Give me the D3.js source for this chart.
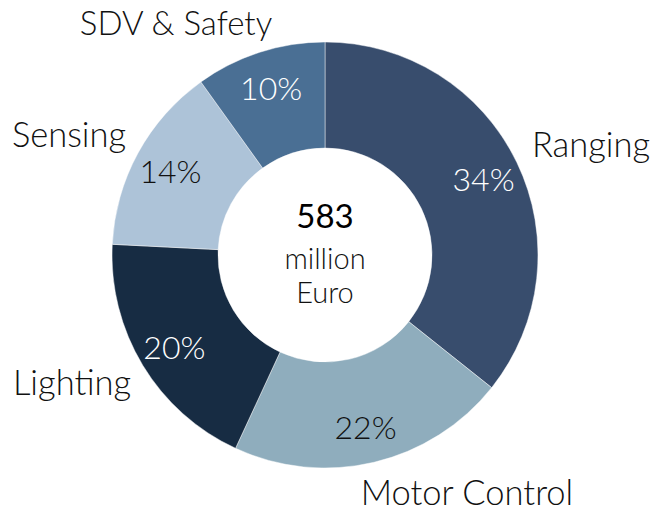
<!DOCTYPE html>
<html>
<head>
<meta charset="utf-8">
<script src="https://cdn.jsdelivr.net/npm/d3@7"></script>
<style>
  body { margin: 0; background: #fff; }
  svg { display: block; font-family: Lato, "Open Sans", sans-serif; }
</style>
</head>
<body>
<svg width="656" height="511"></svg>
<script>
// segments, clockwise from 12 o'clock
const categories = ["Ranging", "Motor Control", "Lighting", "Sensing", "SDV & Safety"];
const shares = [35.7, 21.2, 18.9, 14.3, 9.9];   // angular share
const pctLabels = ["34%", "22%", "20%", "14%", "10%"];
const totalValue = "583";
const totalUnit = ["million", "Euro"];

const colors = ["#384d6d", "#8fadbd", "#172c43", "#adc3d8", "#4a6f94"];
const pctColors = ["#fff", "#111", "#fff", "#111", "#fff"];

// where the category names sit, offset from the centre (baseline, text centred)
const namePos = {
  "Ranging": [266, -98],
  "Motor Control": [142, 250],
  "Lighting": [-253, 140],
  "Sensing": [-256, -108],
  "SDV & Safety": [-149, -220]
};

const cx = 325, cy = 255,
    outerR = 213, innerR = 107, labelR = 176;

const svg = d3.select("svg");
const g = svg.append("g").attr("transform", `translate(${cx},${cy})`);

const pie = d3.pie().sort(null).value(d => d.v);
const arcs = pie(categories.map((c, i) => ({name: c, v: shares[i], i: i})));

const arc = d3.arc().innerRadius(innerR).outerRadius(outerR);
const labelArc = d3.arc().innerRadius(labelR).outerRadius(labelR);

g.selectAll("path.slice")
    .data(arcs)
    .join("path")
    .attr("class", "slice")
    .attr("d", arc)
    .attr("fill", d => colors[d.data.i])
    .attr("stroke", "rgba(255,255,255,0.45)")
    .attr("stroke-width", 1);

g.selectAll("text.pct")
    .data(arcs)
    .join("text")
    .attr("class", "pct")
    .attr("transform", d => `translate(${labelArc.centroid(d)})`)
    .attr("text-anchor", "middle")
    .attr("dominant-baseline", "central")
    .style("font-size", "32px")
    .style("font-weight", 300)
    .attr("fill", d => pctColors[d.data.i])
    .text(d => pctLabels[d.data.i]);

g.selectAll("text.name")
    .data(categories)
    .join("text")
    .attr("class", "name")
    .attr("x", d => namePos[d][0])
    .attr("y", d => namePos[d][1])
    .attr("text-anchor", "middle")
    .style("font-size", d => d === "SDV & Safety" ? "33px" : "34.5px")
    .style("font-weight", 300)
    .attr("fill", "#111")
    .text(d => d);

g.append("text")
    .attr("y", -27)
    .attr("text-anchor", "middle")
    .style("font-size", "33px")
    .attr("fill", "#000")
    .text(totalValue);

g.selectAll("text.unit")
    .data(totalUnit)
    .join("text")
    .attr("class", "unit")
    .attr("y", (d, i) => 14 + i * 34)
    .attr("text-anchor", "middle")
    .style("font-size", "29px")
    .style("font-weight", 300)
    .attr("fill", "#111")
    .text(d => d);
</script>
</body>
</html>
